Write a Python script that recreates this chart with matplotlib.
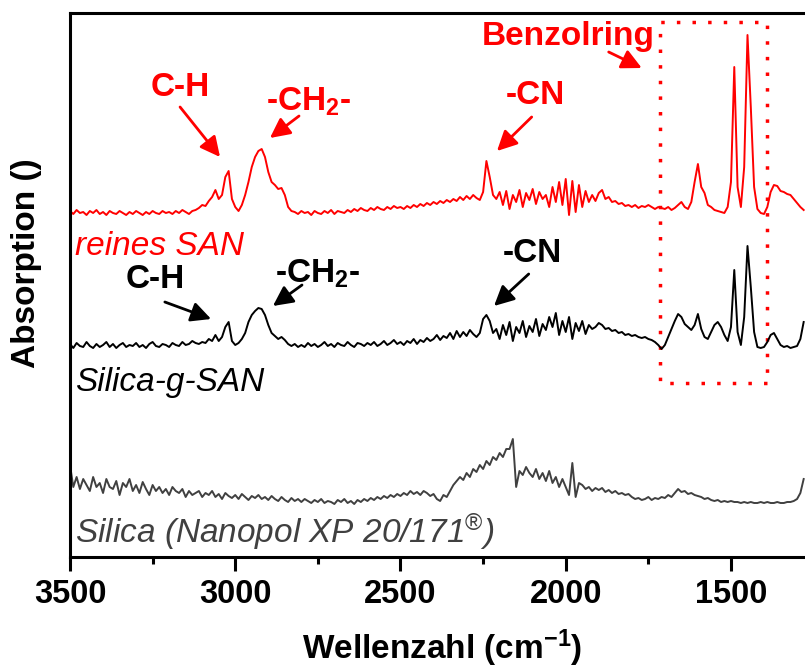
import numpy as np
import matplotlib
matplotlib.use("Agg")
import matplotlib.pyplot as plt
from matplotlib.patches import Rectangle

plt.rcParams["font.family"] = ["Liberation Sans", "DejaVu Sans"]
plt.rcParams["mathtext.fontset"] = "custom"
plt.rcParams["mathtext.rm"] = "Liberation Sans"
plt.rcParams["mathtext.it"] = "Liberation Sans:italic"
plt.rcParams["mathtext.bf"] = "Liberation Sans:bold"

# wavenumber grid (cm^-1), 10 cm^-1 steps from 3500 down to 1280
wn = np.arange(3500, 1279, -10)

# reines SAN (offset spectrum, arbitrary units)
san = [
    346, 343, 347, 344, 345, 342, 346, 344, 347, 343,   # 3500
    345, 342, 346, 344, 343, 346, 344, 342, 345, 343,   # 3400
    346, 344, 342, 345, 343, 346, 344, 343, 346, 344,   # 3300
    345, 343, 346, 344, 347, 345, 343, 346, 347, 349,   # 3200
    352, 351, 356, 360, 367, 358, 362, 380, 386, 358,   # 3100
    350, 346, 352, 362, 375, 390, 400, 406, 408, 400,   # 3000
    385, 375, 372, 368, 369, 362, 350, 346, 345, 343,   # 2900
    346, 344, 345, 342, 346, 344, 343, 346, 344, 347,   # 2800
    343, 346, 345, 344, 347, 345, 348, 346, 349, 347,   # 2700
    346, 349, 347, 350, 348, 347, 350, 348, 351, 349,   # 2600
    350, 348, 351, 349, 352, 350, 353, 351, 354, 352,   # 2500
    355, 353, 356, 354, 357, 355, 358, 356, 360, 357,   # 2400
    361, 358, 362, 359, 357, 365, 396, 380, 362, 358,   # 2300
    365, 352, 366, 348, 362, 355, 367, 350, 364, 357,   # 2200
    368, 353, 365, 358, 362, 350, 370, 355, 375, 352,   # 2100
    378, 342, 376, 345, 372, 350, 366, 355, 362, 356,   # 2000
    364, 367, 358, 360, 355, 356, 353, 354, 351, 352,   # 1900
    350, 352, 349, 351, 350, 352, 350, 348, 350, 349,   # 1800
    348, 350, 347, 349, 352, 355, 350, 348, 355, 375,   # 1700
    393, 370, 364, 352, 350, 347, 346, 345, 344, 350,   # 1600
    375, 490, 370, 350, 390, 522, 450, 370, 348, 344,   # 1500
    343, 350, 365, 372, 371, 366, 365, 363, 362, 358,   # 1400
    354, 350, 347,                                      # 1300
]

# Silica-g-SAN
gsan = [
    213, 209, 214, 211, 210, 215, 211, 209, 213, 210,   # 3500
    212, 215, 210, 213, 209, 212, 214, 210, 212, 211,   # 3400
    214, 210, 212, 209, 213, 215, 211, 210, 213, 212,   # 3300
    210, 214, 212, 211, 215, 212, 213, 216, 214, 213,   # 3200
    215, 214, 218, 216, 222, 216, 220, 230, 235, 216,   # 3100
    212, 214, 218, 224, 235, 242, 246, 249, 248, 242,   # 3000
    232, 224, 221, 218, 220, 217, 213, 211, 213, 210,   # 2900
    212, 210, 214, 211, 213, 210, 212, 215, 211, 213,   # 2800
    210, 214, 212, 211, 215, 212, 210, 214, 213, 211,   # 2700
    214, 212, 215, 211, 213, 216, 212, 214, 217, 213,   # 2600
    215, 212, 216, 214, 218, 213, 217, 215, 219, 216,   # 2500
    218, 222, 217, 221, 219, 224, 218, 226, 220, 225,   # 2400
    221, 227, 223, 220, 224, 238, 242, 236, 224, 228,   # 2300
    218, 232, 222, 235, 216, 230, 224, 236, 220, 231,   # 2200
    225, 238, 221, 233, 227, 240, 230, 244, 222, 236,   # 2100
    225, 240, 218, 234, 226, 236, 223, 232, 228, 230,   # 2000
    234, 232, 228, 229, 226, 227, 224, 225, 222, 223,   # 1900
    221, 222, 220, 219, 220, 218, 217, 215, 212, 208,   # 1800
    212, 220, 228, 236, 243, 240, 233, 230, 227, 232,   # 1700
    243, 228, 220, 218, 225, 232, 235, 230, 222, 216,   # 1600
    230, 287, 225, 212, 240, 311, 270, 225, 210, 209,   # 1500
    210, 215, 222, 224, 218, 212, 210, 211, 209, 210,   # 1400
    211, 218, 235,                                      # 1300
]

# Silica (Nanopol XP 20/171)
silica = [
    92, 70, 80, 68, 78, 72, 66, 80, 70, 74,             # 3500
    64, 78, 70, 68, 76, 62, 74, 70, 78, 66,             # 3400
    72, 64, 75, 68, 62, 72, 66, 70, 64, 68,             # 3300
    62, 70, 66, 64, 68, 60, 66, 62, 64, 66,             # 3200
    60, 64, 62, 66, 60, 63, 58, 64, 61, 59,             # 3100
    62, 58, 63, 60, 57, 61, 59, 62, 58, 60,             # 3000
    57, 61, 58, 56, 60, 57, 55, 59, 56, 58,             # 2900
    55, 58, 56, 54, 57, 55, 58, 54, 56, 55,             # 2800
    53, 57, 55, 58, 54, 56, 53, 57, 55, 58,             # 2700
    56, 59, 57, 60, 58, 61, 59, 62, 60, 63,             # 2600
    61, 64, 62, 66, 63, 65, 62, 66, 64, 61,             # 2500
    63, 58, 56, 62, 60, 66, 72, 76, 80, 77,             # 2400
    84, 80, 88, 85, 92, 88, 96, 92, 100, 97,            # 2300
    104, 100, 108, 108, 118, 70, 86, 82, 90, 84,        # 2200
    80, 88, 78, 84, 76, 86, 74, 80, 70, 78,             # 2100
    70, 62, 94, 60, 74, 72, 68, 70, 66, 69,             # 2000
    67, 69, 65, 67, 64, 66, 63, 64, 62, 63,             # 1900
    60, 58, 59, 57, 58, 60, 57, 59, 58, 60,             # 1800
    59, 62, 60, 64, 68, 65, 66, 63, 64, 62,             # 1700
    61, 60, 58, 59, 57, 56, 57, 55, 56, 55,             # 1600
    56, 55, 55, 54, 55, 54, 55, 54, 54, 55,             # 1500
    54, 55, 54, 54, 55, 54, 54, 55, 55, 56,             # 1400
    58, 64, 78,                                         # 1300
]

red = "#ff0000"
grey = "#404040"
fs = 24

fig = plt.figure(figsize=(8.05, 6.72), dpi=100)
ax = fig.add_axes([70 / 805, 115 / 672, 735 / 805, 544 / 672])

ax.plot(wn, san, color=red, lw=1.4)
ax.plot(wn, gsan, color="black", lw=1.4)
ax.plot(wn, silica, color=grey, lw=1.4)

ax.set_xlim(3500, 1276)
ax.set_ylim(0, 544)
ax.set_xticks([3500, 3000, 2500, 2000, 1500])
ax.set_xticks([3250, 2750, 2250, 1750], minor=True)
ax.set_yticks([])
ax.tick_params(axis="x", which="major", direction="out", length=10, width=2.2,
               labelsize=23.5, pad=6)
ax.tick_params(axis="x", which="minor", direction="out", length=5, width=2.2)
for lab in ax.get_xticklabels():
    lab.set_fontweight("bold")
for side in ["left", "top", "bottom"]:
    ax.spines[side].set_linewidth(2.2)
ax.spines["right"].set_visible(False)

fig.text(442 / 805, 1 - 648 / 672, r"Wellenzahl (cm$^{\mathbf{-1}}$)",
         ha="center", va="center", fontsize=fs, fontweight="bold")
fig.text(26 / 805, 1 - 263 / 672, "Absorption ()", rotation=90,
         ha="center", va="center", fontsize=fs, fontweight="bold")

# sample names
ax.text(3485, 302, "reines SAN", color=red, fontsize=fs, style="italic")
ax.text(3485, 166, "Silica-g-SAN", color="black", fontsize=fs, style="italic")
ax.text(3485, 14, r"Silica (Nanopol XP 20/171$^{\circledR}$)", color=grey,
        fontsize=fs, style="italic")

# band labels
def band(txt, xy_text, xy_tip, xy_tail, color):
    ax.text(*xy_text, txt, color=color, fontsize=fs, fontweight="bold",
            ha="center", va="center")
    ax.annotate("", xy=xy_tip, xytext=xy_tail,
                arrowprops=dict(arrowstyle="-|>,head_length=0.6,head_width=0.3",
                                color=color, lw=2, mutation_scale=20,
                                shrinkA=0, shrinkB=0))

band("C-H", (3167, 469), (3046, 400), (3167, 450), red)
band(r"-CH$_{\mathbf{2}}$-", (2777, 455), (2895, 419), (2807, 441), red)
band("-CN", (2093, 461), (2208, 406), (2103, 440), red)
band("Benzolring", (1994, 521), (1770, 489), (1870, 505), red)
band("C-H", (3243, 278), (3073, 238), (3213, 255), "black")
band(r"-CH$_{\mathbf{2}}$-", (2750, 283), (2886, 251), (2798, 272), "black")
band("-CN", (2100, 303), (2217, 251), (2112, 283), "black")

ax.add_patch(Rectangle((1392, 174), 1715 - 1392, 535 - 174, fill=False,
                       edgecolor=red, lw=2.5, linestyle=(0, (1, 3.5))))

fig.savefig("out.png", dpi=100)
